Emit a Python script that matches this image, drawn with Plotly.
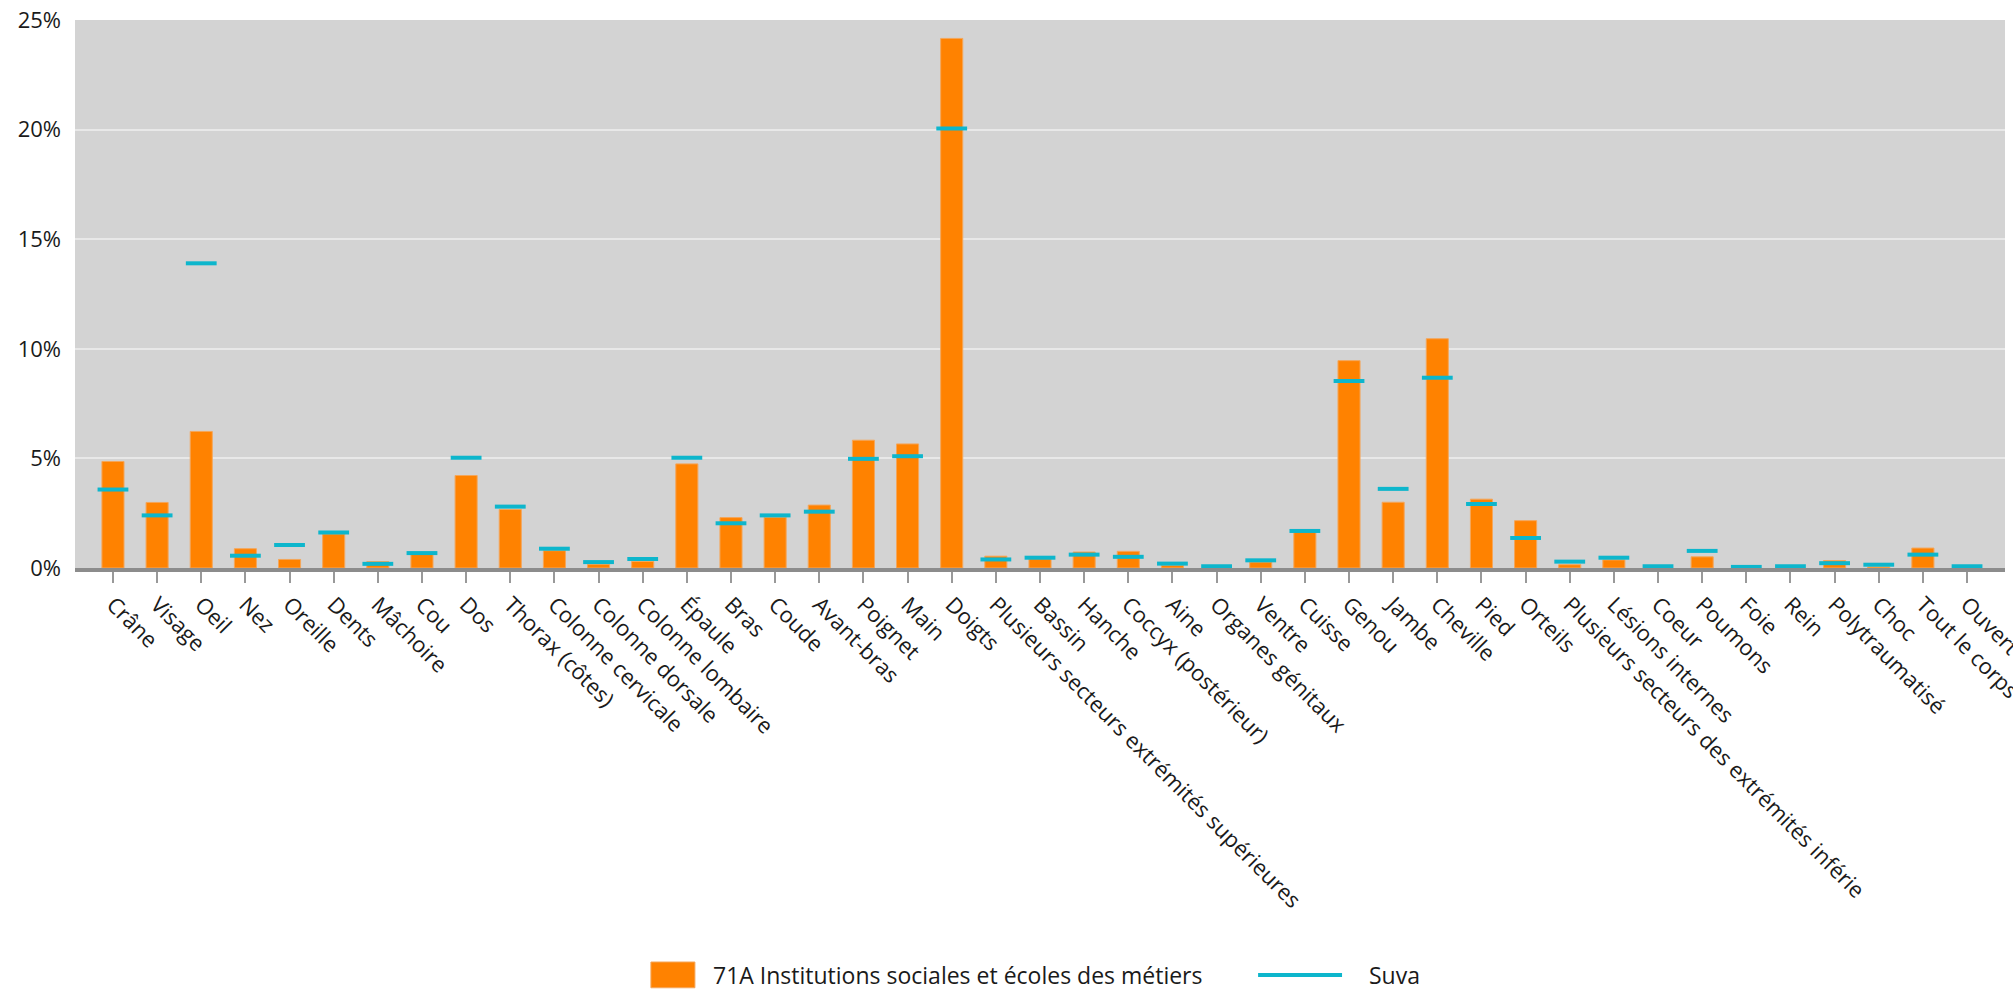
import plotly.graph_objects as go

# Body parts (x axis)
categories = [
    'Crâne', 'Visage', 'Oeil', 'Nez', 'Oreille', 'Dents', 'Mâchoire', 'Cou', 'Dos',
    'Thorax (côtes)', 'Colonne cervicale', 'Colonne dorsale', 'Colonne lombaire',
    'Épaule', 'Bras', 'Coude', 'Avant-bras', 'Poignet', 'Main', 'Doigts',
    'Plusieurs secteurs extrémités supérieures', 'Bassin', 'Hanche',
    'Coccyx (postérieur)', 'Aine', 'Organes génitaux', 'Ventre', 'Cuisse', 'Genou',
    'Jambe', 'Cheville', 'Pied', 'Orteils',
    'Plusieurs secteurs des extrémités inférie', 'Lésions internes', 'Coeur',
    'Poumons', 'Foie', 'Rein', 'Polytraumatisé', 'Choc', 'Tout le corps', 'Ouvert',
]

# share of accidents in %, 71A Institutions sociales et écoles des métiers
inst_71a = [4.86, 2.99, 6.23, 0.88, 0.39, 1.55, 0.29, 0.64, 4.22, 2.67, 0.79, 0.17, 0.30,
            4.75, 2.30, 2.31, 2.87, 5.83, 5.66, 24.16, 0.54, 0.42, 0.73, 0.76, 0.12, 0.03,
            0.27, 1.66, 9.46, 3.00, 10.46, 3.14, 2.16, 0.15, 0.37, 0.03, 0.51, 0.01, 0.02,
            0.34, 0.05, 0.91, 0.02]

# share of accidents in %, Suva total
suva = [3.58, 2.40, 13.9, 0.56, 1.05, 1.62, 0.19, 0.68, 5.03, 2.80, 0.88, 0.27, 0.41,
        5.03, 2.04, 2.40, 2.57, 4.98, 5.10, 20.05, 0.39, 0.47, 0.61, 0.51, 0.20, 0.08,
        0.35, 1.69, 8.53, 3.61, 8.68, 2.92, 1.37, 0.29, 0.47, 0.08, 0.78, 0.05, 0.08,
        0.22, 0.15, 0.61, 0.08]

y_ticks = [0, 5, 10, 15, 20, 25]
y_labels = [f'{v}%' for v in y_ticks]

ORANGE = '#FF8200'
CYAN = '#0DB6CC'
FONT = 'Open Sans, Noto Sans, sans-serif'

fig = go.Figure()

fig.add_trace(go.Bar(
    x=categories, y=inst_71a, name='71A Institutions sociales et écoles des métiers',
    width=0.5, marker=dict(color=ORANGE, line=dict(color='#F4A65A', width=1)),
    showlegend=False,
))

fig.add_trace(go.Scatter(
    x=categories, y=suva, name='Suva', mode='markers',
    marker=dict(symbol='line-ew', size=22, line=dict(color=CYAN, width=4)),
    showlegend=False,
))

# legend drawn by hand to get the large swatch
fig.add_shape(type='rect', xref='paper', yref='paper',
              x0=0.2984, x1=0.3212, y0=-0.766, y1=-0.719,
              fillcolor=ORANGE, line=dict(color='#F4A65A', width=1))
fig.add_annotation(text='71A Institutions sociales et écoles des métiers',
                   xref='paper', yref='paper', x=0.3295, y=-0.7427,
                   xanchor='left', yanchor='middle', showarrow=False,
                   font=dict(size=23, color='#1a1a1a', family=FONT))
fig.add_shape(type='line', xref='paper', yref='paper',
              x0=0.6130, x1=0.6565, y0=-0.7427, y1=-0.7427,
              line=dict(color=CYAN, width=4))
fig.add_annotation(text='Suva', xref='paper', yref='paper', x=0.6694, y=-0.7427,
                   xanchor='left', yanchor='middle', showarrow=False,
                   font=dict(size=23, color='#1a1a1a', family=FONT))

fig.update_layout(
    width=2013, height=991,
    margin=dict(l=75, r=8, t=20, b=423),
    plot_bgcolor='#D3D3D3',
    paper_bgcolor='white',
    font=dict(family=FONT, size=22, color='#1a1a1a'),
    hovermode='x',
)

fig.update_xaxes(
    type='category', range=[-0.86, 42.86], automargin=False,
    tickangle=45, ticks='outside', ticklen=11, tickwidth=2, tickcolor='#999999',
    showline=True, linecolor='#8C8C8C', linewidth=4,
    showgrid=False, tickfont=dict(size=22),
)

fig.update_yaxes(
    range=[0, 25], tickvals=y_ticks, ticktext=y_labels, automargin=False,
    showgrid=True, gridcolor='#E8E8E8', gridwidth=2,
    zeroline=False, showline=False, ticks='', ticklabelstandoff=13,
    tickfont=dict(size=22),
)

# drop the default page margin so the 2013x991 figure fills the window
fig.write_html('out.html', config={'displayModeBar': False},
               post_script="document.body.style.margin='0';")
